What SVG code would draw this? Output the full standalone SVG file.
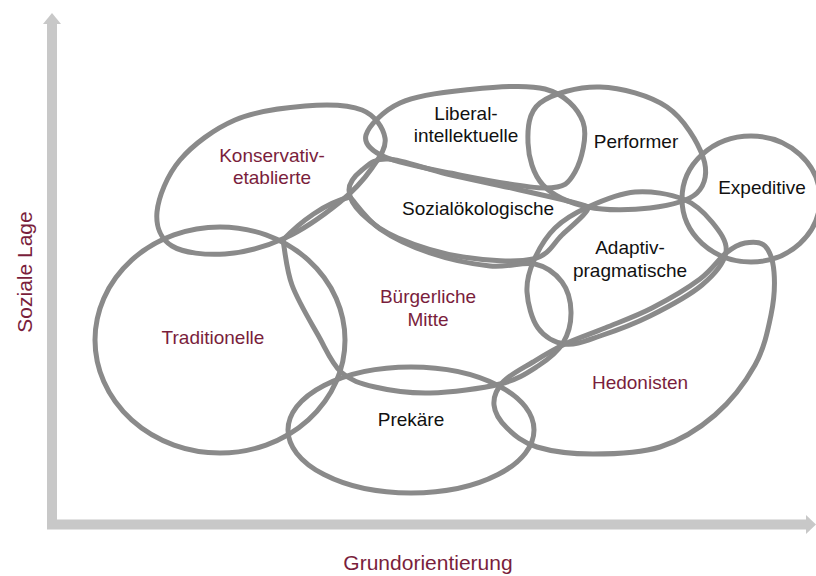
<svg xmlns="http://www.w3.org/2000/svg" width="816" height="576" viewBox="0 0 816 576">
<style>
.ax{fill:none;stroke:#c8c8c8;stroke-width:10;stroke-linejoin:miter}
.axh{fill:#c8c8c8}
.sh{fill:none;stroke:#8a8a8a;stroke-width:5;stroke-linejoin:round}
.t{font-family:"Liberation Sans",Arial,sans-serif;font-size:19px;text-anchor:middle}
.k{fill:#111111}
.m{fill:#7a1e3c}
.axl{font-family:"Liberation Sans",Arial,sans-serif;font-size:21px;text-anchor:middle;fill:#7a1e3c}
</style>
<rect width="816" height="576" fill="#ffffff"/>
<g id="axes">
<path class="ax" d="M52,24 V524.5 H808"/>
<polygon class="axh" points="43,24 52,13 61,24"/>
<polygon class="axh" points="806,515 816,524.5 806,534"/>
<text class="axl" transform="translate(32,272) rotate(-90)">Soziale Lage</text>
<text class="axl" x="428" y="570">Grundorientierung</text>
</g>
<g id="connectors"></g>
<g id="traditionelle">
<ellipse class="sh" cx="220" cy="340" rx="125" ry="113"/>
<text class="t m" x="213" y="344">Traditionelle</text>
</g>
<g id="konservativ-etablierte">
<path class="sh" d="M157,212 C158.3,197.7 167,175.3 180,160 C193,144.7 214.2,129 235,120 C255.8,111 283.8,107.7 305,106 C326.2,104.3 348.7,104.7 362,110 C375.3,115.3 383.3,128.3 385,138 C386.7,147.7 379.5,157.3 372,168 C364.5,178.7 354.5,190.3 340,202 C325.5,213.7 304.2,229.3 285,238 C265.8,246.7 243.8,252.7 225,254 C206.2,255.3 183.3,253 172,246 C160.7,239 155.7,226.3 157,212 Z"/>
<text class="t m" x="272" y="162">Konservativ-</text>
<text class="t m" x="272" y="184">etablierte</text>
</g>
<g id="liberal-intellektuelle">
<path class="sh" d="M366,135 C368.5,126 383.5,110.5 400,103 C416.5,95.5 440.8,92.3 465,90 C489.2,87.7 525.3,83.7 545,89 C564.7,94.3 578,108.2 583,122 C588,135.8 581.3,161 575,172 C568.7,183 565.8,187.8 545,188 C524.2,188.2 476.7,178.2 450,173 C423.3,167.8 399,163.3 385,157 C371,150.7 363.5,144 366,135 Z"/>
<text class="t k" x="466" y="120">Liberal-</text>
<text class="t k" x="466" y="142">intellektuelle</text>
</g>
<g id="performer">
<path class="sh" d="M528,143 C527.5,129.3 528,112.3 540,103 C552,93.7 578.8,86.3 600,87 C621.2,87.7 649.8,95.3 667,107 C684.2,118.7 698,142.7 703,157 C708,171.3 705.8,184.5 697,193 C688.2,201.5 668.2,205.7 650,208 C631.8,210.3 605.8,210.8 588,207 C570.2,203.2 553,195.7 543,185 C533,174.3 528.5,156.7 528,143 Z"/>
<text class="t k" x="636" y="148">Performer</text>
</g>
<g id="expeditive">
<ellipse class="sh" cx="751" cy="199" rx="69" ry="63"/>
<text class="t k" x="762" y="194">Expeditive</text>
</g>
<g id="sozialoekologische">
<path class="sh" d="M349,190 C349,182.7 355.5,175.2 362,170 C368.5,164.8 373.8,158.3 388,159 C402.2,159.7 425,168.8 447,174 C469,179.2 496.5,184.5 520,190 C543.5,195.5 585,204 588,207 C591,210 571.2,226.3 562,235 C552.8,243.7 549.5,255.3 533,259 C516.5,262.7 485.5,260.5 463,257 C440.5,253.5 414.8,245.2 398,238 C381.2,230.8 370.2,222 362,214 C353.8,206 349,197.3 349,190 Z"/>
<text class="t k" x="478" y="215">Sozialökologische</text>
</g>
<g id="adaptiv-pragmatische">
<path class="sh" d="M527,292 C526.3,280.7 529.3,270.7 534,260 C538.7,249.3 546,236.8 555,228 C564,219.2 574.7,213 588,207 C601.3,201 619.2,193.3 635,192 C650.8,190.7 670.2,194 683,199 C695.8,204 704.8,213.2 712,222 C719.2,230.8 727.7,241.5 726,252 C724.3,262.5 714.7,274.3 702,285 C689.3,295.7 667,307.5 650,316 C633,324.5 614.2,331.3 600,336 C585.8,340.7 575.3,345.3 565,344 C554.7,342.7 544.3,336.7 538,328 C531.7,319.3 527.7,303.3 527,292 Z"/>
<text class="t k" x="630" y="254">Adaptiv-</text>
<text class="t k" x="630" y="277">pragmatische</text>
</g>
<g id="buergerliche-mitte">
<path class="sh" d="M350,197 C355,202.3 366.7,219.7 380,229 C393.3,238.3 411.7,246.8 430,253 C448.3,259.2 472.5,264.2 490,266 C507.5,267.8 523,261.3 535,264 C547,266.7 556,274 562,282 C568,290 570.8,301.8 571,312 C571.2,322.2 568.5,334 563,343 C557.5,352 548.5,359.2 538,366 C527.5,372.8 518,379.5 500,384 C482,388.5 450.8,392.5 430,393 C409.2,393.5 389.8,390.5 375,387 C360.2,383.5 350.5,380.7 341,372 C331.5,363.3 326.2,349.5 318,335 C309.8,320.5 297.8,300.8 292,285 C286.2,269.2 284.5,247.5 283,240 C300,222 325,203 350,197 Z"/>
<text class="t m" x="428" y="303">Bürgerliche</text>
<text class="t m" x="428" y="326">Mitte</text>
</g>
<g id="prekaere">
<ellipse class="sh" cx="411" cy="430" rx="123" ry="63"/>
<text class="t k" x="411" y="426">Prekäre</text>
</g>
<g id="hedonisten">
<path class="sh" d="M494,405 C493.3,397.3 496.5,389.2 503,382 C509.5,374.8 522.7,368.3 533,362 C543.3,355.7 553,349.7 565,344 C577,338.3 590.5,334 605,328 C619.5,322 636.2,316.2 652,308 C667.8,299.8 687.7,288.2 700,279 C712.3,269.8 718.5,259 726,253 C733.5,247 738.5,244.2 745,243 C751.5,241.8 760.2,241.2 765,246 C769.8,250.8 773,260.5 774,272 C775,283.5 774.2,299.5 771,315 C767.8,330.5 764.3,348.3 755,365 C745.7,381.7 730.8,401.3 715,415 C699.2,428.7 680.3,440.5 660,447 C639.7,453.5 613.5,454 593,454 C572.5,454 551.3,451.3 537,447 C522.7,442.7 514.2,435 507,428 C499.8,421 494.7,412.7 494,405 Z"/>
<text class="t m" x="640" y="389">Hedonisten</text>
</g>
</svg>
